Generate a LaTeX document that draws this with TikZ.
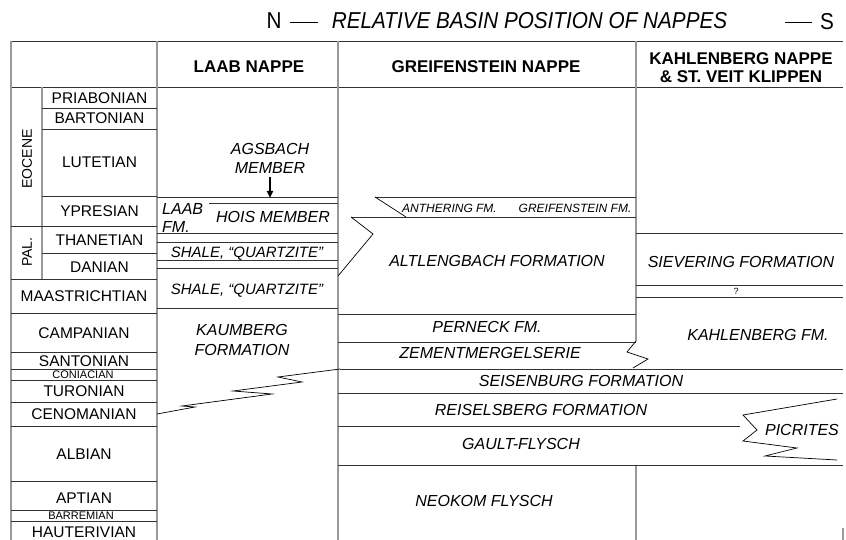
\documentclass[tikz,border=0pt]{standalone}
\usepackage{fontspec}
\setmainfont{Liberation Sans}
\newfontfamily\titlefont[FakeStretch=0.9]{Liberation Sans}
\usetikzlibrary{arrows.meta}
\begin{document}
\begin{tikzpicture}[x=1pt,y=-1pt,
  hl/.style={line width=0.9pt, black!80},
  vl/.style={line width=1.4pt, black!40},
  zz/.style={line width=0.7pt, black},
  stg/.style={font=\fontsize{15.5}{17}\selectfont, anchor=base, yshift=-5.5pt, inner sep=0pt},
  stgs/.style={font=\fontsize{11}{12}\selectfont, anchor=base, yshift=-3.9pt, inner sep=0pt},
  ep/.style={font=\fontsize{14}{16}\selectfont, rotate=90, inner sep=0pt},
  fm/.style={font=\itshape\fontsize{16}{18}\selectfont, anchor=base, yshift=-5.7pt, inner sep=0pt},
  fmq/.style={font=\itshape\fontsize{15}{17}\selectfont, anchor=base, yshift=-5.4pt, inner sep=0pt},
  fms/.style={font=\itshape\fontsize{12}{13}\selectfont, anchor=base, yshift=-4.3pt, inner sep=0pt},
  hd/.style={font=\bfseries\fontsize{17}{19}\selectfont, anchor=base, yshift=-6.1pt, inner sep=0pt},
  ttl/.style={font=\titlefont\itshape\fontsize{23}{25}\selectfont, anchor=base, yshift=-8.2pt, inner sep=0pt},
  ttlr/.style={font=\titlefont\fontsize{23}{25}\selectfont, anchor=base, yshift=-8.2pt, inner sep=0pt},
  arr/.style={line width=1.8pt, -{Triangle[length=7pt,width=6pt]}},
]
\useasboundingbox (0,0) rectangle (846,540);

% ---------- title ----------
\node[ttlr] (tN) at (274,20) {N};
\node[ttl] (title) at (529.5,20) {RELATIVE BASIN POSITION OF NAPPES};
\node[ttlr] (tS) at (827,21) {S};
\coordinate (d1a) at (290,22); \coordinate (d1b) at (318,22);
\coordinate (d2a) at (785,22); \coordinate (d2b) at (812,22);
\draw[line width=0.8pt] (d1a) -- (d1b);
\draw[line width=0.8pt] (d2a) -- (d2b);

% ---------- table frame ----------
\draw[hl] (11,41) -- (843,41);
\draw[hl] (11,87) -- (843,87);
\draw[vl] (11,41) -- (11,540);
\draw[vl] (157,41) -- (157,540);
\draw[vl] (338,41) -- (338,540);
\draw[vl] (636,41) -- (636,341);
\draw[vl] (636,465) -- (636,540);
\draw[vl] (42,87) -- (42,279);
\draw[vl] (843,528) -- (843,540);

% ---------- stage lines ----------
\foreach \y in {108,129,196,253} \draw[hl] (42,\y) -- (157,\y);
\foreach \y in {226,279,313,352,369,380,402,426,481,510,521} \draw[hl] (11,\y) -- (157,\y);

% ---------- Laab nappe lines ----------
\foreach \y in {197,233,242,260,268,308} \draw[hl] (157,\y) -- (338,\y);
\draw[hl] (209,203) -- (338,203);
\draw[zz] (157,414) -- (195,407) -- (182,406) -- (272,394) -- (233,391) -- (302,382) -- (278,377) -- (340,369);

% ---------- Greifenstein nappe lines ----------
\draw[hl] (375,197) -- (636,197);
\draw[zz] (375,197) -- (406,217);
\draw[hl] (351,217) -- (636,217);
\draw[zz] (351,217) -- (373,234) -- (338,276);
\draw[hl] (338,314) -- (636,314);
\draw[hl] (338,342) -- (636,342);
\draw[zz] (636,341) -- (627,352) -- (648,359) -- (633,368);
\draw[hl] (340,369) -- (843,369);
\draw[hl] (338,393) -- (843,393);
\draw[hl] (338,426) -- (740,426);
\draw[hl] (338,465) -- (843,465);

% ---------- Kahlenberg lines ----------
\draw[hl] (636,233) -- (843,233);
\draw[hl] (636,285) -- (843,285);
\draw[hl] (636,297) -- (843,297);
\draw[zz] (837,399) -- (743,415) -- (757,430) -- (743,441) -- (797,448) -- (765,456) -- (837,460);

% ---------- header ----------
\node[hd] (hLaab) at (249,66) {LAAB NAPPE};
\node[hd] (hGreif) at (486,66) {GREIFENSTEIN NAPPE};
\node[hd, anchor=center, yshift=0pt, align=center, font=\bfseries\fontsize{17}{18.5}\selectfont] (hKahl) at (741,61.5) {KAHLENBERG NAPPE\\\& ST. VEIT KLIPPEN};

% ---------- epochs ----------
\node[ep] (eEoc) at (27,159) {EOCENE};
\node[ep] (ePal) at (27,252) {PAL.};

% ---------- stages ----------
\node[stg] (sPri) at (99.5,98) {PRIABONIAN};
\node[stg] (sBar) at (99.5,118) {BARTONIAN};
\node[stg] (sLut) at (99.5,162) {LUTETIAN};
\node[stg] (sYpr) at (99.5,211) {YPRESIAN};
\node[stg] (sTha) at (99.5,240) {THANETIAN};
\node[stg] (sDan) at (99.5,267) {DANIAN};
\node[stg] (sMaa) at (84,296) {MAASTRICHTIAN};
\node[stg] (sCam) at (84,333) {CAMPANIAN};
\node[stg] (sSan) at (84,361) {SANTONIAN};
\node[stgs] (sCon) at (83,375) {CONIACIAN};
\node[stg] (sTur) at (84,391) {TURONIAN};
\node[stg] (sCen) at (84,414) {CENOMANIAN};
\node[stg] (sAlb) at (84,454) {ALBIAN};
\node[stg] (sApt) at (84,498) {APTIAN};
\node[stgs] (sBrm) at (81,516) {BARREMIAN};
\node[stg] (sHau) at (84,532) {HAUTERIVIAN};

% ---------- Laab nappe ----------
\node[fm, anchor=center, yshift=0pt, align=center, font=\itshape\fontsize{16}{19}\selectfont] (agsbach) at (270,153) {AGSBACH\\MEMBER};
\coordinate (agsTip) at (270,198);
\coordinate (agsTail) at (270,177);
\draw[arr] (agsTail) -- (agsTip);
\node[fm, anchor=west, yshift=0pt, align=left, font=\itshape\fontsize{16}{18}\selectfont] (laabfm) at (162,212.5) {LAAB\\FM.};
\node[fm] (hois) at (273,217) {HOIS MEMBER};
\node[fmq] (shale1) at (247,252) {SHALE, “QUARTZITE”};
\node[fmq] (shale2) at (247,289) {SHALE, “QUARTZITE”};
\node[fm, anchor=center, yshift=0pt, align=center, font=\itshape\fontsize{16}{20}\selectfont] (kaumberg) at (242,334.5) {KAUMBERG\\FORMATION};

% ---------- Greifenstein nappe ----------
\node[fms] (anth) at (449.5,208) {ANTHERING FM.};
\node[fms] (greifm) at (575,208) {GREIFENSTEIN FM.};
\node[fm] (altl) at (497,261) {ALTLENGBACH FORMATION};
\node[fm] (pern) at (487,327) {PERNECK FM.};
\node[fm] (zem) at (490,353) {ZEMENTMERGELSERIE};
\node[fm] (seis) at (581,381) {SEISENBURG FORMATION};
\node[fm] (reis) at (541,410) {REISELSBERG FORMATION};
\node[fm] (gault) at (521,444) {GAULT-FLYSCH};
\node[fm] (neok) at (484,501) {NEOKOM FLYSCH};

% ---------- Kahlenberg nappe ----------
\node[fm] (siev) at (741,262) {SIEVERING FORMATION};
\node[font=\fontsize{9}{10}\selectfont, inner sep=0pt] (qm) at (736,291) {?};
\node[fm] (kahlfm) at (758,335) {KAHLENBERG FM.};
\node[fm] (picr) at (802,430) {PICRITES};
\end{tikzpicture}
\end{document}
